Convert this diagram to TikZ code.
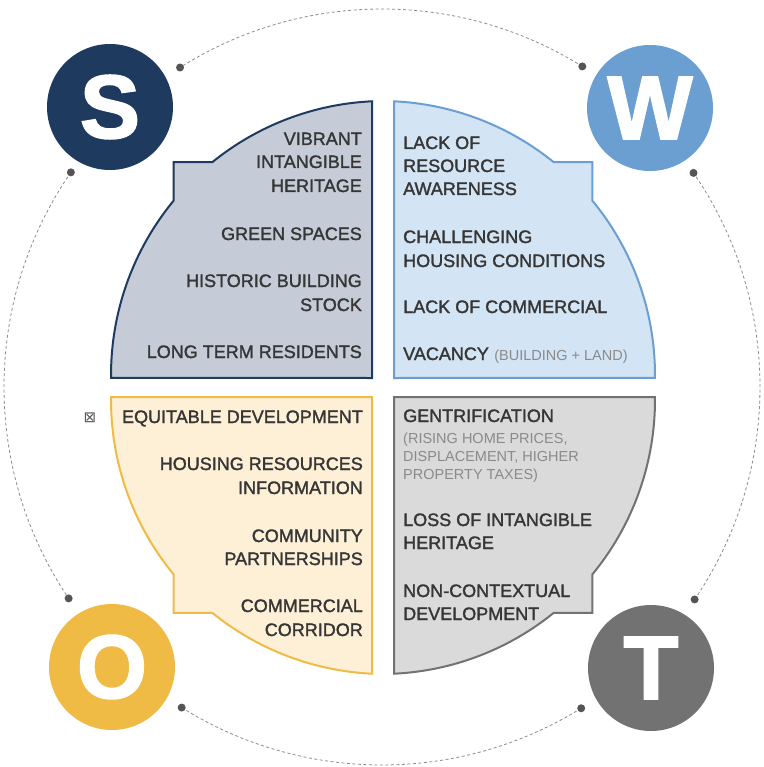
\documentclass[tikz,border=0pt]{standalone}
\usepackage{fontspec}
\setmainfont{Liberation Sans}
\newfontfamily\medfont{Liberation Sans}[FakeBold=1.6]
\newfontfamily\blackfont{Liberation Sans Bold}[FakeBold=2]
\newfontfamily\symfont{DejaVu Sans}
\usetikzlibrary{calc}
\definecolor{navy}{HTML}{1E3A5F}
\definecolor{sfill}{HTML}{C6CCD7}
\definecolor{wblue}{HTML}{6B9FD1}
\definecolor{wfill}{HTML}{D3E4F4}
\definecolor{ogold}{HTML}{F0BB45}
\definecolor{ofill}{HTML}{FDF0D6}
\definecolor{tgray}{HTML}{727272}
\definecolor{tfill}{HTML}{DADADA}
\definecolor{txt}{HTML}{363636}
\definecolor{subtxt}{HTML}{8A8A8A}
\definecolor{dashgray}{HTML}{8C8C8C}
\definecolor{dotgray}{HTML}{555555}
\begin{document}
\begin{tikzpicture}[x=1pt,y=1pt,
  quad/.style={line width=2pt, line join=miter},
  lab/.style={font=\medfont\fontsize{18}{22}\selectfont, text=txt, inner sep=0pt},
  labR/.style={lab, anchor=base east},
  labL/.style={lab, anchor=base west},
  sublab/.style={font=\fontsize{14.5}{18}\selectfont, text=subtxt, inner sep=0pt, anchor=base west},
  letter/.style={circle, minimum size=126pt, inner sep=0pt, text=white, font=\blackfont\fontsize{90}{90}\selectfont},
  dashline/.style={draw=dashgray, line width=0.8pt, dash pattern=on 3pt off 2.5pt},
  dotmark/.style={circle, fill=dotgray, minimum size=8pt, inner sep=0pt}
]
\fill[white] (0,0) rectangle (763,-767);
\useasboundingbox (0,0) rectangle (763,-767);

% quadrants
\draw[quad, draw=navy, fill=sfill, shift={(385,-375)}]
  (-13,-3) -- (-13,273.7) arc[start angle=92.7,end angle=129,radius=274]
  -- (-211.4,212.9) -- (-211.4,174.3) arc[start angle=140.5,end angle=180.6,radius=274] -- cycle;
\draw[quad, draw=wblue, fill=wfill, shift={(381,-375)}, xscale=-1]
  (-13,-3) -- (-13,273.7) arc[start angle=92.7,end angle=129,radius=274]
  -- (-211.4,212.9) -- (-211.4,174.3) arc[start angle=140.5,end angle=180.6,radius=274] -- cycle;
\draw[quad, draw=ogold, fill=ofill, shift={(385,-400)}, yscale=-1]
  (-13,-3) -- (-13,273.7) arc[start angle=92.7,end angle=129,radius=274]
  -- (-211.4,212.9) -- (-211.4,174.3) arc[start angle=140.5,end angle=180.6,radius=274] -- cycle;
\draw[quad, draw=tgray, fill=tfill, shift={(381,-400)}, scale=-1]
  (-13,-3) -- (-13,273.7) arc[start angle=92.7,end angle=129,radius=274]
  -- (-211.4,212.9) -- (-211.4,174.3) arc[start angle=140.5,end angle=180.6,radius=274] -- cycle;

% dashed ring
\coordinate (c) at (382,-387);
\draw[dashline] ($(c)+(58:378)$) arc[start angle=58,end angle=122.3,radius=378];
\draw[dashline] ($(c)+(145.4:378)$) arc[start angle=145.4,end angle=214,radius=378];
\draw[dashline] ($(c)+(238:378)$) arc[start angle=238,end angle=301.8,radius=378];
\draw[dashline] ($(c)+(325.8:378)$) arc[start angle=325.8,end angle=394.5,radius=378];
\node[dotmark] (d1) at ($(c)+(58:378)$) {};
\node[dotmark] (d2) at ($(c)+(122.3:378)$) {};
\node[dotmark] (d3) at ($(c)+(145.4:378)$) {};
\node[dotmark] (d4) at ($(c)+(214:378)$) {};
\node[dotmark] (d5) at ($(c)+(238:378)$) {};
\node[dotmark] (d6) at ($(c)+(301.8:378)$) {};
\node[dotmark] (d7) at ($(c)+(325.8:378)$) {};
\node[dotmark] (d8) at ($(c)+(394.5:378)$) {};

% letter circles
\node[letter, fill=navy] (S) at (110,-107) {S};
\node[letter, fill=wblue] (W) at (650,-108) {W};
\node[letter, fill=ogold] (O) at (112,-667) {O};
\node[letter, fill=tgray] (T) at (651,-668) {T};

% S labels
\node[labR] (s1) at (362,-145) {VIBRANT};
\node[labR] (s2) at (362,-168) {INTANGIBLE};
\node[labR] (s3) at (362,-192) {HERITAGE};
\node[labR] (s4) at (362,-240) {GREEN SPACES};
\node[labR] (s5) at (362,-287) {HISTORIC BUILDING};
\node[labR] (s6) at (362,-311) {STOCK};
\node[labR] (s7) at (362,-358) {LONG TERM RESIDENTS};

% W labels
\node[labL] (w1) at (403,-149) {LACK OF};
\node[labL] (w2) at (403,-172) {RESOURCE};
\node[labL] (w3) at (403,-195) {AWARENESS};
\node[labL] (w4) at (403,-243) {CHALLENGING};
\node[labL] (w5) at (403,-267) {HOUSING CONDITIONS};
\node[labL] (w6) at (403,-313) {LACK OF COMMERCIAL};
\node[labL] (w7) at (403,-360) {VACANCY};
\node[sublab] (w8) at ([xshift=5pt]w7.base east) {(BUILDING + LAND)};

% O labels
\node[font=\symfont\fontsize{15}{15}\selectfont, text=dotgray, inner sep=0pt] (tofu) at (90,-418) {⊠};
\node[labR] (o1) at (363,-423) {EQUITABLE DEVELOPMENT};
\node[labR] (o2) at (363,-470) {HOUSING RESOURCES};
\node[labR] (o3) at (363,-494) {INFORMATION};
\node[labR] (o4) at (363,-542) {COMMUNITY};
\node[labR] (o5) at (363,-565) {PARTNERSHIPS};
\node[labR] (o6) at (363,-612) {COMMERCIAL};
\node[labR] (o7) at (363,-636) {CORRIDOR};

% T labels
\node[labL] (t1) at (403,-422) {GENTRIFICATION};
\node[sublab] (t2) at (403,-443) {(RISING HOME PRICES,};
\node[sublab] (t3) at (403,-461) {DISPLACEMENT, HIGHER};
\node[sublab] (t4) at (403,-479) {PROPERTY TAXES)};
\node[labL] (t5) at (403,-526) {LOSS OF INTANGIBLE};
\node[labL] (t6) at (403,-549) {HERITAGE};
\node[labL] (t7) at (403,-597) {NON-CONTEXTUAL};
\node[labL] (t8) at (403,-620) {DEVELOPMENT};
\end{tikzpicture}
\end{document}
